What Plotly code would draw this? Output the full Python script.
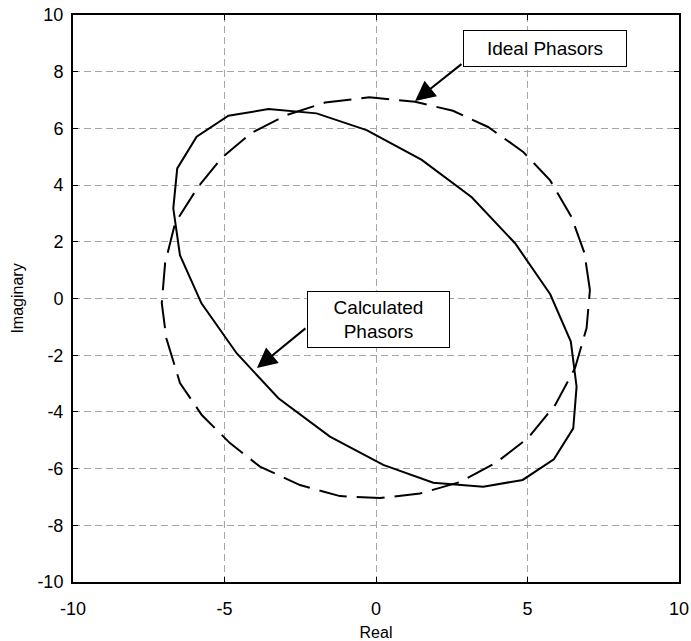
import plotly.graph_objects as go

# Ideal phasors (dashed) - vertices
ideal_x = [7.06, 6.88, 6.45, 5.74, 4.86, 3.70, 2.54, 1.29, -0.22, -1.68, -2.95, -4.10,
           -5.09, -5.87, -6.63, -6.96, -7.07, -6.92, -6.47, -5.75, -4.82, -3.83, -2.51, -1.19,
           0.13, 1.45, 2.75, 3.95, 5.02, 5.91, 6.57, 6.95, 7.06]
ideal_y = [0.30, 1.60, 2.88, 4.18, 5.17, 6.05, 6.62, 6.94, 7.10, 6.91, 6.47, 5.85,
           4.96, 3.94, 2.66, 1.25, -0.16, -1.40, -2.98, -4.11, -5.10, -5.93, -6.58, -6.97,
           -7.04, -6.88, -6.48, -5.80, -4.92, -3.76, -2.45, -1.04, 0.30]

# Calculated phasors (solid) - vertices
calc_x = [-0.31, -1.96, -3.55, -4.87, -5.92, -6.56, -6.69, -6.47, -5.76, -4.60, -3.22, -1.52,
          0.24, 1.89, 3.54, 4.84, 5.87, 6.51, 6.62, 6.43, 5.75, 4.59, 3.16, 1.51, -0.31]
calc_y = [5.94, 6.53, 6.68, 6.45, 5.71, 4.59, 3.18, 1.53, -0.17, -1.93, -3.52, -4.87,
          -5.87, -6.50, -6.64, -6.40, -5.67, -4.58, -3.11, -1.52, 0.15, 1.95, 3.57, 4.89, 5.94]

tick_vals_x = [-10, -5, 0, 5, 10]
tick_vals_y = [-10, -8, -6, -4, -2, 0, 2, 4, 6, 8, 10]

FONT = "Liberation Sans, Arial, sans-serif"

fig = go.Figure()
fig.add_trace(go.Scatter(x=ideal_x, y=ideal_y, mode="lines",
                         line=dict(color="black", width=2, dash="28px,10px"),
                         showlegend=False, hoverinfo="skip"))
fig.add_trace(go.Scatter(x=calc_x, y=calc_y, mode="lines",
                         line=dict(color="black", width=2),
                         showlegend=False, hoverinfo="skip"))

# Arrows
fig.add_annotation(x=1.29, y=6.97, ax=2.87, ay=8.31, xref="x", yref="y", axref="x", ayref="y",
                   text="", showarrow=True, arrowhead=2, arrowsize=2.0, arrowwidth=2,
                   arrowcolor="black")
fig.add_annotation(x=-3.93, y=-2.45, ax=-2.28, ay=-1.01, xref="x", yref="y", axref="x", ayref="y",
                   text="", showarrow=True, arrowhead=2, arrowsize=2.0, arrowwidth=2,
                   arrowcolor="black")
# Label boxes
fig.add_annotation(x=5.58, y=8.83, xref="x", yref="y", text="Ideal Phasors", showarrow=False,
                   bordercolor="black", borderwidth=1, borderpad=0, bgcolor="white",
                   width=162, height=35, font=dict(family=FONT, size=19, color="black"))
fig.add_annotation(x=0.08, y=-0.74, xref="x", yref="y", text="Calculated<br>Phasors", showarrow=False,
                   bordercolor="black", borderwidth=1, borderpad=0, bgcolor="white",
                   width=141, height=55, font=dict(family=FONT, size=19, color="black"))

axis_common = dict(showline=True, linecolor="black", linewidth=2, mirror="ticks",
                   ticks="inside", ticklen=5, tickcolor="black", tickwidth=1,
                   showgrid=True, gridcolor="#a6a6a6", gridwidth=1, griddash="7px,4px",
                   zeroline=False, ticklabeloverflow="allow", automargin=False,
                   tickfont=dict(family=FONT, size=18, color="black"))

fig.update_xaxes(range=[-10, 10], tickvals=tick_vals_x, ticktext=[str(v) for v in tick_vals_x],
                 title=dict(text="Real", font=dict(family=FONT, size=16, color="black"), standoff=18),
                 ticklabelstandoff=9, **axis_common)
fig.update_yaxes(range=[-10, 10], tickvals=tick_vals_y, ticktext=[str(v) for v in tick_vals_y],
                 title=dict(text="Imaginary", font=dict(family=FONT, size=16, color="black"), standoff=10),
                 ticklabelstandoff=4, **axis_common)

fig.update_layout(width=691, height=641, margin=dict(l=73, r=12, t=15, b=59),
                  paper_bgcolor="white", plot_bgcolor="white")

fig.write_html("out.html", config={"displayModeBar": False},
               post_script="document.body.style.margin='0';")
